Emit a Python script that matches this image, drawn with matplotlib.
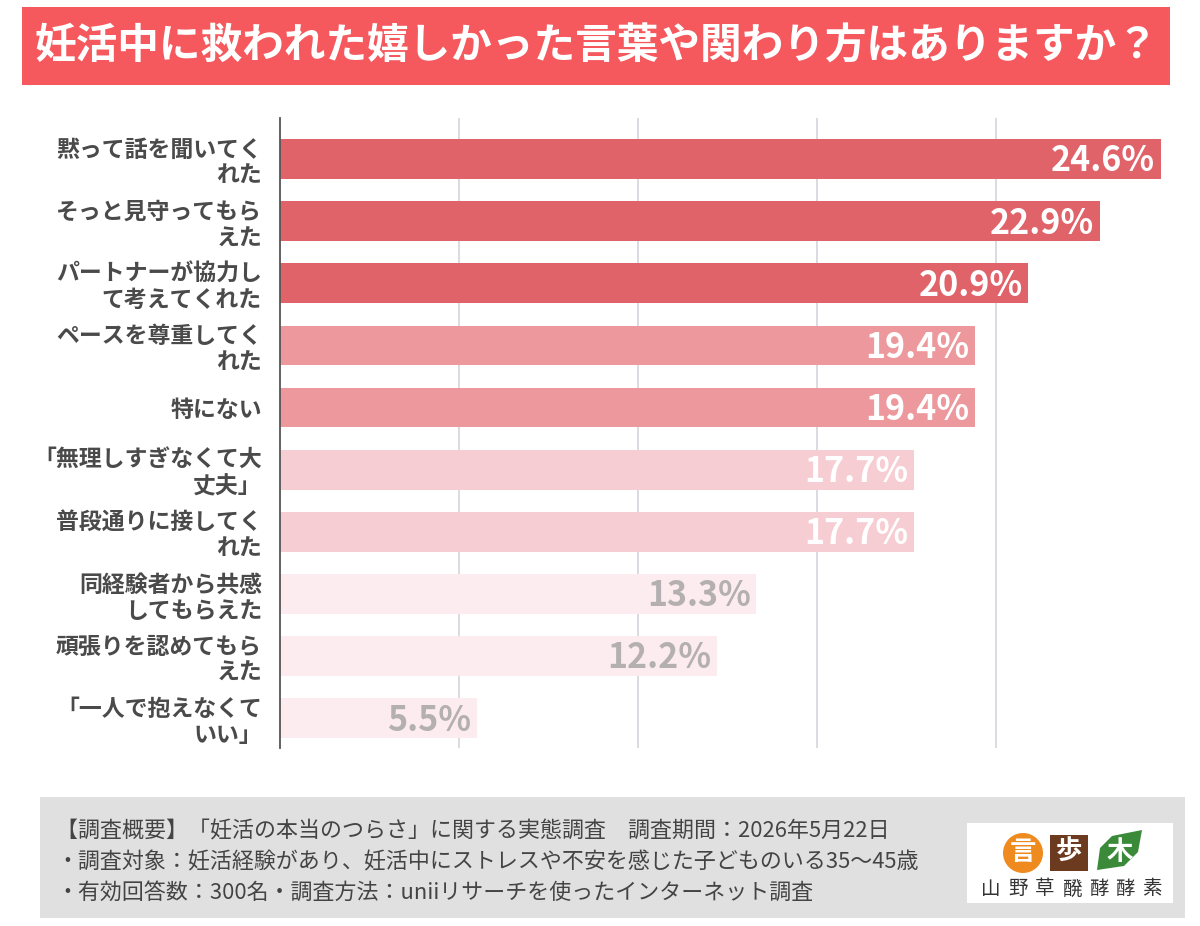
import matplotlib
matplotlib.use("Agg")
import matplotlib.pyplot as plt
from matplotlib.patches import Rectangle, Ellipse, Polygon

plt.rcParams['font.family'] = ['Noto Sans CJK JP', 'DejaVu Sans']

title = "妊活中に救われた嬉しかった言葉や関わり方はありますか？"
categories = [
    "黙って話を聞いてく\nれた",
    "そっと見守ってもら\nえた",
    "パートナーが協力し\nて考えてくれた",
    "ペースを尊重してく\nれた",
    "特にない",
    "「無理しすぎなくて大\n丈夫」",
    "普段通りに接してく\nれた",
    "同経験者から共感\nしてもらえた",
    "頑張りを認めてもら\nえた",
    "「一人で抱えなくて\nいい」",
]
values = [24.6, 22.9, 20.9, 19.4, 19.4, 17.7, 17.7, 13.3, 12.2, 5.5]
bar_colors = ["#e0636a", "#e0636a", "#e0636a", "#ec989c", "#ec989c",
              "#f6cdd2", "#f6cdd2", "#fdecef", "#fdecef", "#fdecef"]
label_colors = ["white"] * 7 + ["#b4b0b2"] * 3
footer_lines = [
    "【調査概要】「妊活の本当のつらさ」に関する実態調査　調査期間：2026年5月22日",
    "・調査対象：妊活経験があり、妊活中にストレスや不安を感じた子どものいる35〜45歳",
    "・有効回答数：300名・調査方法：uniiリサーチを使ったインターネット調査",
]
logo_chars = ["言", "歩", "木"]
logo_text = "山野草醗酵酵素"

W, H = 1200, 926
fig = plt.figure(figsize=(W / 100, H / 100), dpi=100)
fig.patch.set_facecolor("white")

def fx(x):
    return x / W

def fy(y):
    return 1 - y / H

# Title banner
fig.add_artist(Rectangle((fx(22), fy(85)), fx(1170 - 22), (85 - 7) / H,
                         transform=fig.transFigure, facecolor="#f5585d",
                         edgecolor="none", zorder=0))
fig.text(fx(34), fy(47), title, color="white", fontsize=30, fontweight="bold",
         ha="left", va="center")

# Axes
ax = fig.add_axes([fx(280), fy(748), fx(1175 - 280), (748 - 118) / H])
ypos = list(range(len(values)))
ax.barh(ypos, values, height=0.64, color=bar_colors, zorder=2)
ax.set_xlim(0, 25)
ax.set_ylim(9.48, -0.66)
ax.set_xticks([5, 10, 15, 20])
ax.xaxis.grid(True, color="#d4d4dc", linewidth=1.2, zorder=0)
ax.tick_params(axis="x", length=0, labelbottom=False)
ax.tick_params(axis="y", length=0, pad=13)
ax.set_yticks(ypos)
ax.set_yticklabels(categories, fontsize=16.5, fontweight="bold", color="#4a4a4a",
                   linespacing=1.2)
for lab in ax.get_yticklabels():
    lab.set_ha("right")
for s in ["top", "right", "bottom"]:
    ax.spines[s].set_visible(False)
ax.spines["left"].set_color("#555555")
ax.spines["left"].set_linewidth(1.3)
ax.spines["left"].set_zorder(3)
ax.set_facecolor("white")

for y, v, c in zip(ypos, values, label_colors):
    ax.text(v - 0.15, y + 0.03, f"{v}%", color=c, fontsize=24.5, fontweight="bold",
            ha="right", va="center", zorder=4)

# Footer box
fig.add_artist(Rectangle((fx(40), fy(918)), fx(1185 - 40), (918 - 797) / H,
                         transform=fig.transFigure, facecolor="#e0e0e0",
                         edgecolor="none", zorder=0))
for i, line in enumerate(footer_lines):
    fig.text(fx(56), fy(831 + 31 * i), line, fontsize=15.8, color="#444444",
             ha="left", va="center")

# Logo
fig.add_artist(Rectangle((fx(967), fy(903)), fx(1173 - 967), (903 - 823) / H,
                         transform=fig.transFigure, facecolor="white",
                         edgecolor="none", zorder=1))
fig.add_artist(Ellipse((fx(1023), fy(853)), fx(40), 40 / H,
                       transform=fig.transFigure, facecolor="#ee8a1e",
                       edgecolor="none", zorder=2))
fig.add_artist(Rectangle((fx(1050), fy(871)), fx(38), 36 / H,
                         transform=fig.transFigure, facecolor="#6b3a1f",
                         edgecolor="none", zorder=2))
leaf = [(1097, 870), (1100, 848), (1112, 836), (1142, 830), (1138, 852),
        (1124, 866)]
fig.add_artist(Polygon([(fx(x), fy(y)) for x, y in leaf], closed=True,
                       transform=fig.transFigure, facecolor="#3a8a3a",
                       edgecolor="none", zorder=2))
for cx, ch in zip([1023, 1069, 1120], logo_chars):
    fig.text(fx(cx), fy(852), ch, fontsize=19, fontweight="bold", color="white",
             ha="center", va="center", zorder=3)
n = len(logo_text)
for i, ch in enumerate(logo_text):
    cx = 991 + i * (1152 - 991) / (n - 1)
    fig.text(fx(cx), fy(889), ch, fontsize=14, color="#333333",
             ha="center", va="center", zorder=3)

fig.savefig("out.png", dpi=100, facecolor="white")
